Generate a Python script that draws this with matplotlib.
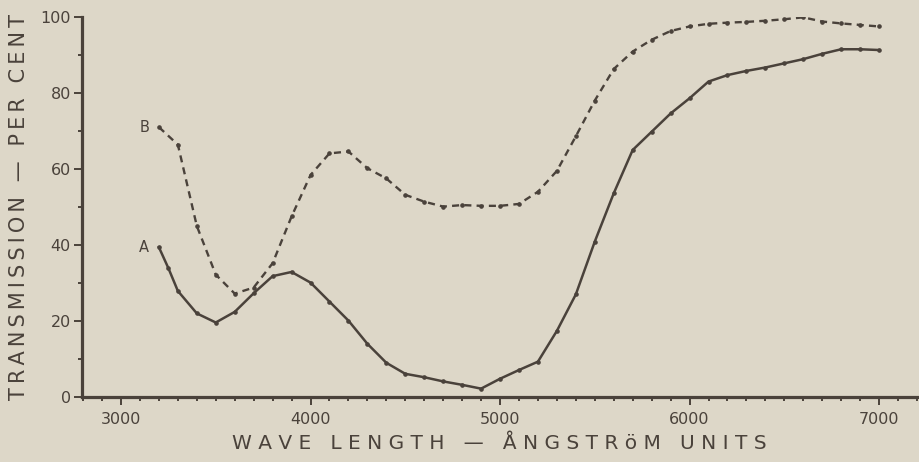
import matplotlib
matplotlib.use("Agg")
import matplotlib.pyplot as plt
from matplotlib.ticker import MultipleLocator

# ---- data ----
wl_A = [3200, 3250, 3300, 3400, 3500, 3600, 3700, 3800, 3900, 4000,
        4100, 4200, 4300, 4400, 4500, 4600, 4700, 4800, 4900, 5000,
        5100, 5200, 5300, 5400, 5500, 5600, 5700, 5800, 5900, 6000,
        6100, 6200, 6300, 6400, 6500, 6600, 6700, 6800, 6900, 7000]
trans_A = [39.4, 33.9, 27.9, 22.0, 19.6, 22.4, 27.3, 31.8, 32.9, 30.1,
           25.1, 20.1, 14.0, 9.0, 6.1, 5.2, 4.1, 3.2, 2.2, 4.8,
           7.1, 9.3, 17.4, 27.0, 40.9, 53.6, 65.0, 69.8, 74.6, 78.6,
           83.0, 84.7, 85.8, 86.7, 87.8, 88.9, 90.3, 91.5, 91.5, 91.3]

wl_B = [3200, 3300, 3400, 3500, 3600, 3700, 3800, 3900, 4000, 4100,
        4200, 4300, 4400, 4500, 4600, 4700, 4800, 4900, 5000, 5100,
        5200, 5300, 5400, 5500, 5600, 5700, 5800, 5900, 6000, 6100,
        6200, 6300, 6400, 6500, 6600, 6700, 6800, 6900, 7000]
trans_B = [71.0, 66.4, 45.0, 32.2, 27.2, 28.8, 35.2, 47.5, 58.4, 64.1,
           64.6, 60.2, 57.5, 53.2, 51.4, 50.1, 50.5, 50.3, 50.3, 50.8,
           54.0, 59.5, 68.6, 78.0, 86.3, 90.9, 94.0, 96.3, 97.5, 98.2,
           98.5, 98.7, 99.0, 99.4, 99.9, 98.8, 98.3, 97.9, 97.5]

x_ticks = [3000, 4000, 5000, 6000, 7000]
y_ticks = [0, 20, 40, 60, 80, 100]
curve_labels = ["A", "B"]

x_label = "WAVE LENGTH — ÅNGSTRöM UNITS"
y_label = "TRANSMISSION — PER CENT"

# ---- style ----
bg = "#ddd7c8"
ink = "#4a423b"

def spaced(s, sep):
    return sep.join(list(s))

fig = plt.figure(figsize=(9.2, 4.62), dpi=100, facecolor=bg)
ax = fig.add_axes([0.0891, 0.1407, 0.9076, 0.8226])
ax.set_facecolor(bg)

ax.plot(wl_A, trans_A, color=ink, lw=1.8, marker="o", ms=2.3,
        solid_joinstyle="miter")
ax.plot(wl_B, trans_B, color=ink, lw=1.7, ls=(0, (3, 2.2)), marker="o", ms=2.3)

ax.text(3122, trans_A[0], curve_labels[0], color=ink, fontsize=10.5,
        ha="center", va="center")
ax.text(3122, trans_B[0], curve_labels[1], color=ink, fontsize=10.5,
        ha="center", va="center")

ax.set_xlim(2794, 7200)
ax.set_ylim(0, 100)

for s in ["top", "right"]:
    ax.spines[s].set_visible(False)
for s in ["left", "bottom"]:
    ax.spines[s].set_color(ink)
    ax.spines[s].set_linewidth(2.3)

ax.set_xticks(x_ticks)
ax.set_yticks(y_ticks)
ax.set_xticklabels([str(v) for v in x_ticks])
ax.set_yticklabels([str(v) for v in y_ticks])
ax.xaxis.set_minor_locator(MultipleLocator(100))
ax.yaxis.set_minor_locator(MultipleLocator(10))
ax.tick_params(axis="both", which="major", colors=ink, labelcolor=ink,
               labelsize=11.5, width=1.4, length=6, direction="out")
ax.tick_params(axis="both", which="minor", colors=ink, width=1.4, length=3,
               direction="out")
ax.tick_params(axis="x", which="major", pad=5)
ax.tick_params(axis="y", which="major", pad=2)

ax.set_xlabel(spaced(x_label, " "), color=ink, fontsize=14.5, labelpad=5)
ax.set_ylabel(spaced(y_label, "\u2009"), color=ink, fontsize=15, labelpad=8)

fig.savefig("out.png", dpi=100, facecolor=bg)
